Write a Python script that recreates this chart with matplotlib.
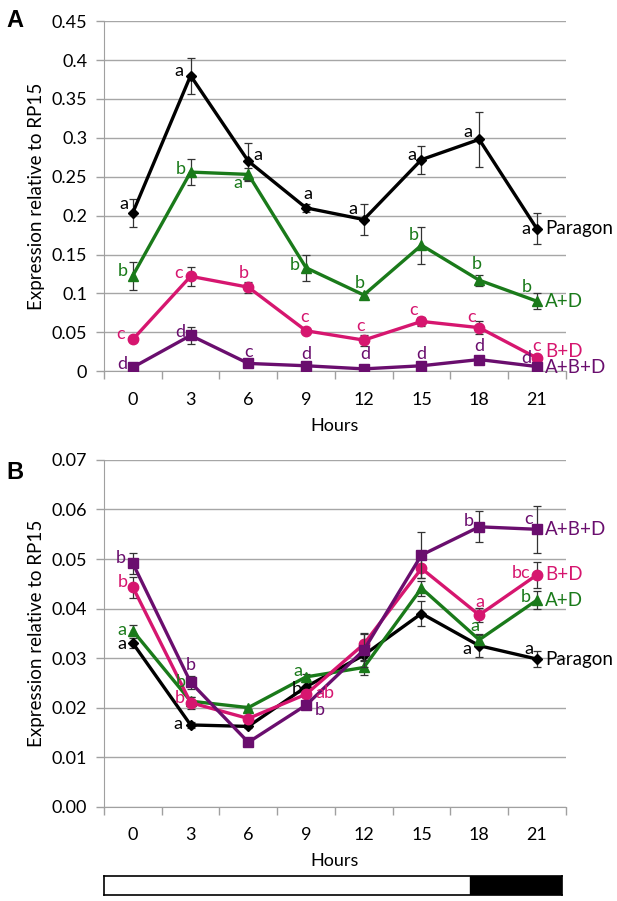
import matplotlib
matplotlib.use("Agg")
import matplotlib.pyplot as plt
import numpy as np

plt.rcParams['font.family'] = ['Lato', 'DejaVu Sans']

hours = [0, 3, 6, 9, 12, 15, 18, 21]
series_names = ["Paragon", "A+D", "B+D", "A+B+D"]
colors = ["black", "#1a7a1a", "#d6166f", "#6a0e6e"]
markers = ["D", "^", "o", "s"]
msizes = [5, 7, 7.5, 7.5]

# panel A values and errors
a_vals = [
    [0.204, 0.380, 0.270, 0.210, 0.195, 0.272, 0.298, 0.183],
    [0.123, 0.256, 0.253, 0.133, 0.098, 0.162, 0.117, 0.090],
    [0.041, 0.122, 0.108, 0.052, 0.040, 0.064, 0.056, 0.017],
    [0.005, 0.046, 0.010, 0.007, 0.003, 0.007, 0.015, 0.006],
]
a_errs = [
    [0.018, 0.023, 0.024, 0.005, 0.020, 0.018, 0.035, 0.020],
    [0.018, 0.017, 0.008, 0.017, 0.003, 0.024, 0.007, 0.010],
    [0.003, 0.012, 0.007, 0.003, 0.007, 0.006, 0.008, 0.003],
    [0.002, 0.011, 0.002, 0.002, 0.001, 0.002, 0.002, 0.002],
]
a_letters = [
    ["a", "a", "a", "a", "a", "a", "a", "a"],
    ["b", "b", "a", "b", "b", "b", "b", "b"],
    ["c", "c", "b", "c", "c", "c", "c", "c"],
    ["d", "d", "c", "d", "d", "d", "d", "d"],
]

# panel B values and errors
b_vals = [
    [0.0330, 0.0165, 0.0162, 0.0242, 0.0306, 0.0390, 0.0325, 0.0298],
    [0.0355, 0.0213, 0.0200, 0.0262, 0.0281, 0.0441, 0.0337, 0.0417],
    [0.0443, 0.0210, 0.0178, 0.0227, 0.0328, 0.0481, 0.0387, 0.0468],
    [0.0491, 0.0251, 0.0130, 0.0205, 0.0316, 0.0508, 0.0565, 0.0560],
]
b_errs = [
    [0.0010, 0.0006, 0.0004, 0.0010, 0.0012, 0.0025, 0.0023, 0.0017],
    [0.0011, 0.0008, 0.0003, 0.0005, 0.0015, 0.0015, 0.0010, 0.0018],
    [0.0021, 0.0012, 0.0004, 0.0005, 0.0020, 0.0020, 0.0015, 0.0026],
    [0.0021, 0.0013, 0.0004, 0.0005, 0.0035, 0.0047, 0.0031, 0.0047],
]
b_letters = [
    ["a", "a", "", "b", "", "", "a", "a"],
    ["a", "b", "", "a", "", "", "a", "b"],
    ["b", "b", "", "ab", "", "", "a", "bc"],
    ["b", "b", "", "b", "", "", "b", "c"],
]

light_off = 17.7  # hours, start of dark bar

# letter offsets in pixels (dx, dy up)
a_offs = [
    [(-9, 9), (-12, 5), (10, 6), (2, 14), (-11, 11), (-10, 5), (-11, 7), (-11, 0)],
    [(-10, 5), (-10, 3), (-10, -9), (-11, 3), (-4, 12), (-8, 10), (-2, 16), (-10, 14)],
    [(-12, 5), (-12, 3), (-5, 14), (-1, 14), (-3, 14), (-8, 11), (-8, 11), (0, 12)],
    [(-11, 3), (-10, 3), (0, 11), (0, 12), (1, 15), (0, 12), (0, 14), (-11, 9)],
]
b_offs = [
    [(-11, -1), (-13, 1), None, (-9, -2), None, None, (-12, -3), (-8, 10)],
    [(-11, 1), (-10, 19), None, (-8, 6), None, None, (-4, 14), (-11, 3)],
    [(-10, 5), (-11, 5), None, (19, 1), None, None, (1, 13), (-16, 2)],
    [(-12, 5), (0, 17), None, (14, -5), None, None, (-10, 6), (-8, 10)],
]

fig = plt.figure(figsize=(6.17, 9.01), dpi=100)
axA = fig.add_axes([0.1686, 0.588, 0.7484, 0.3885])
axB = fig.add_axes([0.1686, 0.1047, 0.7484, 0.3848])
axBar = fig.add_axes([0.1686, 0.0067, 0.742, 0.021])

x = np.arange(len(hours))


def style_axis(ax, ylim, step, fmt):
    ax.set_xlim(-0.5, len(hours) - 0.5)
    ax.set_ylim(*ylim)
    yt = np.arange(ylim[0], ylim[1] + step / 2, step)
    ax.set_yticks(yt)
    ax.set_yticklabels([fmt(v) for v in yt], fontsize=13)
    ax.set_xticks(x)
    ax.set_xticklabels([str(h) for h in hours], fontsize=13)
    ax.set_xticks(np.arange(-0.5, len(hours)), minor=True)
    ax.tick_params(axis='x', which='major', length=0, pad=15)
    ax.tick_params(axis='x', which='minor', length=6, color='#a0a0a0', width=1)
    ax.tick_params(axis='y', length=6, color='#a0a0a0', width=1, pad=6)
    ax.grid(axis='y', color='#a6a6a6', lw=1)
    ax.set_axisbelow(True)
    for s in ['top', 'right']:
        ax.spines[s].set_visible(False)
    for s in ['left', 'bottom']:
        ax.spines[s].set_color('#a0a0a0')
    ax.set_xlabel("Hours", fontsize=13, labelpad=7)
    ax.set_ylabel("Expression relative to RP15", fontsize=13.5, labelpad=5)


def draw(ax, vals, errs, letters, offs, end_dy):
    for i in range(len(series_names)):
        ax.errorbar(x, vals[i], yerr=errs[i], color=colors[i], lw=2.4,
                    marker=markers[i], ms=msizes[i], ecolor='#333333',
                    elinewidth=0.9, capsize=3, capthick=0.9, zorder=3 + i)
        for j, lt in enumerate(letters[i]):
            if lt and offs[i][j] is not None:
                ax.annotate(lt, (x[j], vals[i][j]), xytext=offs[i][j],
                            textcoords='offset pixels', ha='center',
                            va='center', color=colors[i], fontsize=13,
                            zorder=10)
        ax.annotate(series_names[i], (x[-1], vals[i][-1]),
                    xytext=(8, end_dy[i]), textcoords='offset pixels',
                    ha='left', va='center', color=colors[i], fontsize=13.5,
                    annotation_clip=False, zorder=10)


style_axis(axA, (0, 0.45), 0.05, lambda v: f"{v:g}" if v else "0")
draw(axA, a_vals, a_errs, a_letters, a_offs, [0, 0, 6, -1])

style_axis(axB, (0, 0.07), 0.01, lambda v: f"{v:.2f}")
draw(axB, b_vals, b_errs, b_letters, b_offs, [0, 0, 0, 0])

# light/dark bar
axBar.set_xlim(-0.5, len(hours) - 0.5)
axBar.set_ylim(0, 1)
axBar.axvspan(light_off / 3, len(hours), color='black')
axBar.set_xticks([])
axBar.set_yticks([])
for s in axBar.spines.values():
    s.set_linewidth(1.2)

fig.text(0.01, 0.977, "A", fontsize=17, fontweight='bold',
         family='Liberation Sans', va='center')
fig.text(0.01, 0.476, "B", fontsize=17, fontweight='bold',
         family='Liberation Sans', va='center')

fig.savefig("out.png", dpi=100)
